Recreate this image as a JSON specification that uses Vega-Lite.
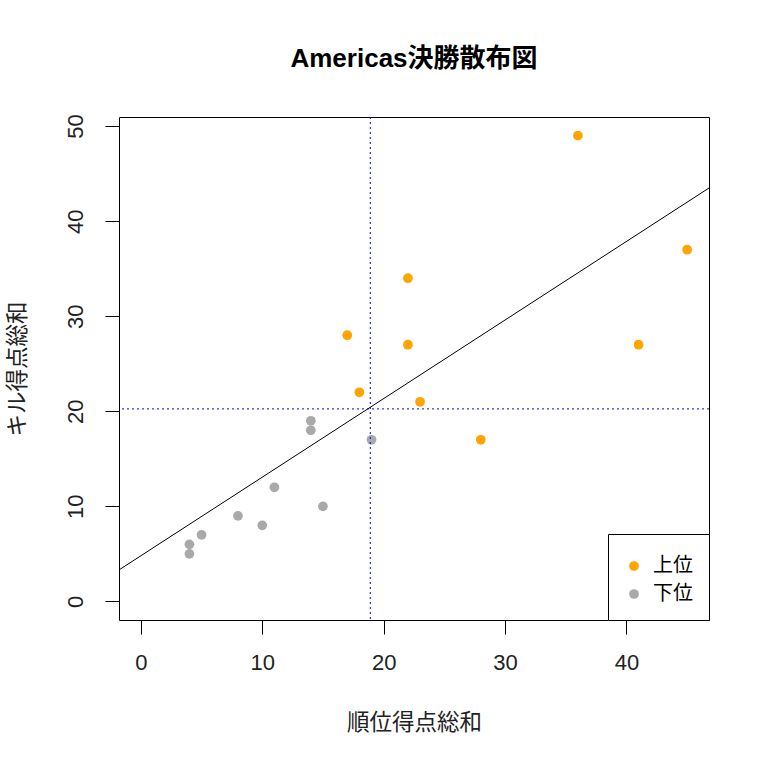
{
  "$schema": "https://vega.github.io/schema/vega-lite/v6.json",
  "width": 590,
  "height": 503,
  "autosize": {"type": "none"},
  "padding": {"left": 119, "top": 117, "right": 57, "bottom": 143},
  "background": "white",
  "title": {
    "text": "Americas決勝散布図",
    "font": "Liberation Sans, Noto Sans CJK JP",
    "fontSize": 26,
    "fontWeight": "bold",
    "color": "black",
    "anchor": "middle",
    "baseline": "alphabetic",
    "offset": 21
  },
  "config": {
    "view": {"stroke": "black", "strokeWidth": 1},
    "axis": {
      "grid": false,
      "domain": false,
      "ticks": true,
      "tickColor": "black",
      "tickSize": 14,
      "tickWidth": 1,
      "labelFont": "Liberation Sans",
      "labelFontSize": 22,
      "labelColor": "#222",
      "labelPadding": 18,
      "titleFont": "Noto Sans CJK JP",
      "titleFontSize": 22.5,
      "titleFontWeight": "normal",
      "titleColor": "#222"
    },
    "legend": {
      "labelFont": "Noto Sans CJK JP",
      "labelFontSize": 20,
      "labelColor": "black"
    }
  },
  "layer": [
    {
      "data": {
        "values": [
          {"x": 36, "y": 49, "group": "上位"},
          {"x": 45, "y": 37, "group": "上位"},
          {"x": 22, "y": 34, "group": "上位"},
          {"x": 17, "y": 28, "group": "上位"},
          {"x": 22, "y": 27, "group": "上位"},
          {"x": 41, "y": 27, "group": "上位"},
          {"x": 18, "y": 22, "group": "上位"},
          {"x": 23, "y": 21, "group": "上位"},
          {"x": 28, "y": 17, "group": "上位"},
          {"x": 14, "y": 19, "group": "下位"},
          {"x": 14, "y": 18, "group": "下位"},
          {"x": 19, "y": 17, "group": "下位"},
          {"x": 11, "y": 12, "group": "下位"},
          {"x": 15, "y": 10, "group": "下位"},
          {"x": 8, "y": 9, "group": "下位"},
          {"x": 10, "y": 8, "group": "下位"},
          {"x": 5, "y": 7, "group": "下位"},
          {"x": 4, "y": 6, "group": "下位"},
          {"x": 4, "y": 5, "group": "下位"}
        ]
      },
      "mark": {"type": "circle", "size": 95, "opacity": 1},
      "encoding": {
        "x": {
          "field": "x",
          "type": "quantitative",
          "scale": {"domain": [-1.8, 46.8], "nice": false, "zero": false},
          "axis": {"values": [0, 10, 20, 30, 40], "title": "順位得点総和", "titlePadding": 38}
        },
        "y": {
          "field": "y",
          "type": "quantitative",
          "scale": {"domain": [-1.96, 50.96], "nice": false, "zero": false},
          "axis": {
            "values": [0, 10, 20, 30, 40, 50],
            "title": "キル得点総和",
            "labelAngle": -90,
            "labelAlign": "center",
            "labelBaseline": "bottom",
            "titlePadding": 35
          }
        },
        "color": {
          "field": "group",
          "type": "nominal",
          "scale": {"domain": ["上位", "下位"], "range": ["#FFA500", "#A9A9A9"]},
          "legend": {
            "title": " ",
            "titleFontSize": 6,
            "titlePadding": 0,
            "orient": "bottom-right",
            "offset": 0,
            "padding": 16,
            "strokeColor": "black",
            "fillColor": "white",
            "symbolType": "circle",
            "symbolSize": 95,
            "symbolStrokeWidth": 0,
            "labelOffset": 9,
            "rowPadding": 8
          }
        }
      }
    },
    {
      "data": {"values": [{"x": 18.9}]},
      "mark": {"type": "rule", "color": "#0000FF", "strokeWidth": 1, "strokeDash": [2, 3]},
      "encoding": {"x": {"field": "x", "type": "quantitative"}}
    },
    {
      "data": {"values": [{"y": 20.25}]},
      "mark": {"type": "rule", "color": "#0000FF", "strokeWidth": 1, "strokeDash": [2, 3]},
      "encoding": {"y": {"field": "y", "type": "quantitative"}}
    },
    {
      "data": {"values": [{"x": -1.8, "y": 3.31, "x2": 46.8, "y2": 43.49}]},
      "mark": {"type": "rule", "color": "black", "strokeWidth": 1, "clip": true},
      "encoding": {
        "x": {"field": "x", "type": "quantitative"},
        "y": {"field": "y", "type": "quantitative"},
        "x2": {"field": "x2"},
        "y2": {"field": "y2"}
      }
    }
  ]
}
